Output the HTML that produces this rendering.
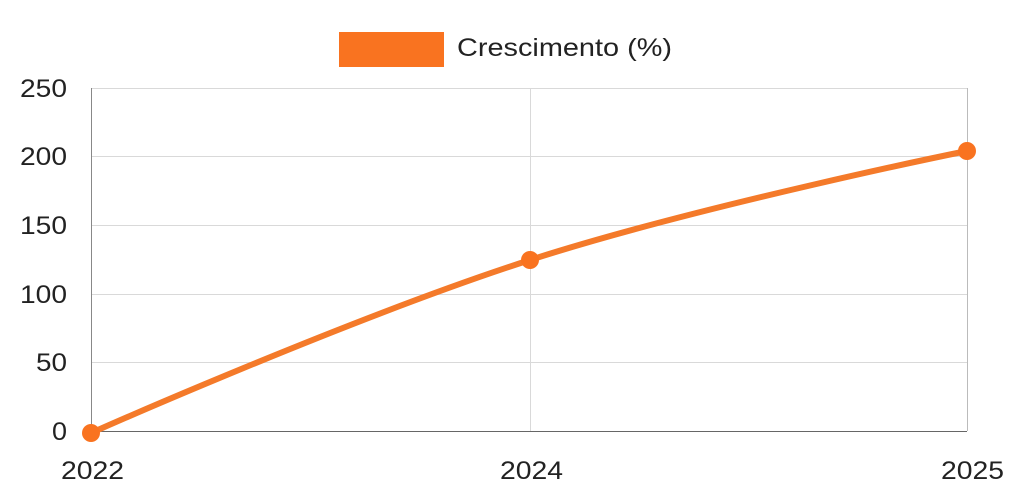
<!DOCTYPE html>
<html><head><meta charset="utf-8"><style>
html,body{margin:0;padding:0;background:#fff;}
svg{display:block;}
text{font-family:"Liberation Sans",sans-serif;fill:#222;}
</style></head><body>
<svg width="1024" height="504" viewBox="0 0 1024 504">
<rect x="339" y="32" width="105" height="35" fill="#f97320"/>
<text x="457" y="56" font-size="25" textLength="215" lengthAdjust="spacingAndGlyphs">Crescimento (%)</text>
<g stroke="#d9d9d9" stroke-width="1">
<line x1="91" y1="88.5" x2="967" y2="88.5"/>
<line x1="91" y1="156.5" x2="967" y2="156.5"/>
<line x1="91" y1="225.5" x2="967" y2="225.5"/>
<line x1="91" y1="294.5" x2="967" y2="294.5"/>
<line x1="91" y1="362.5" x2="967" y2="362.5"/>
<line x1="530.5" y1="88" x2="530.5" y2="431"/>
<line x1="967.5" y1="88" x2="967.5" y2="431" stroke="#bbb"/>
</g>
<line x1="91.5" y1="88" x2="91.5" y2="431" stroke="#888" stroke-width="1"/>
<line x1="91" y1="431.5" x2="967" y2="431.5" stroke="#666" stroke-width="1"/>
<g font-size="25">
<text x="20" y="97" textLength="47" lengthAdjust="spacingAndGlyphs">250</text>
<text x="20" y="165" textLength="47" lengthAdjust="spacingAndGlyphs">200</text>
<text x="20" y="234" textLength="47" lengthAdjust="spacingAndGlyphs">150</text>
<text x="20" y="303" textLength="47" lengthAdjust="spacingAndGlyphs">100</text>
<text x="36" y="371" textLength="31" lengthAdjust="spacingAndGlyphs">50</text>
<text x="52" y="440" textLength="15" lengthAdjust="spacingAndGlyphs">0</text>
</g>
<g font-size="25">
<text x="61" y="479" textLength="63" lengthAdjust="spacingAndGlyphs">2022</text>
<text x="500" y="479" textLength="63" lengthAdjust="spacingAndGlyphs">2024</text>
<text x="941" y="479" textLength="63" lengthAdjust="spacingAndGlyphs">2025</text>
</g>
<path d="M91,433 C91,433 350,318 530,260 C701,205 967,151 967,151" fill="none" stroke="#f47a2a" stroke-width="6" stroke-linecap="round"/>
<circle cx="91" cy="433" r="9" fill="#f97320"/>
<circle cx="530" cy="260" r="9" fill="#f97320"/>
<circle cx="967" cy="151" r="9" fill="#f97320"/>
</svg>
</body></html>
